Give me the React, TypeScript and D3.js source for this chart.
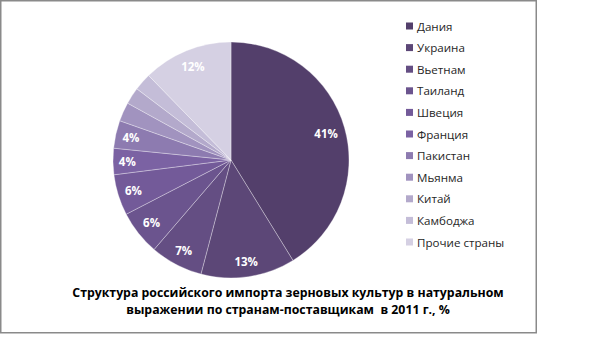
import React from "react";
import * as d3 from "d3";

const countries = ["Дания", "Украина", "Вьетнам", "Таиланд", "Швеция", "Франция", "Пакистан", "Мьянма", "Китай", "Камбоджа", "Прочие страны"];
const shares = [41.2, 12.9, 7.2, 6.1, 5.6, 3.6, 3.8, 2.6, 2.3, 2.4, 12.3];
const colors = ["#533f6b", "#5c4777", "#644e83", "#6b548e", "#735a99", "#7b62a3", "#8d7bb0", "#a193bf", "#b3a9cb", "#c4bdd8", "#d5d0e3"];
const titleLines = ["Структура российского импорта зерновых культур в натуральном", "выражении по странам-поставщикам  в 2011 г., %"];
const minLabelShare = 3.5;

const W = 614, H = 360;
const cx = 231, cy = 160, R = 118;
const FONT = "'Open Sans', 'Noto Sans', sans-serif";

export default function App() {
  const data = countries.map((c, i) => ({ name: c, value: shares[i], color: colors[i] }));
  const pie = d3.pie<any>().value((d) => d.value).sort(null);
  const arcs = pie(data);
  const arc = d3.arc<any>().innerRadius(0).outerRadius(R);
  const total = d3.sum(shares);

  const legendY = d3.scalePoint<string>().domain(countries).range([26, 242]);

  return (
    <svg width={W} height={H} style={{ position: "absolute", left: 0, top: 0, background: "#fff" }} fontFamily={FONT}>
      <rect x={0.75} y={0.75} width={535.5} height={332} fill="#fff" stroke="#8a8a8a" strokeWidth={1.5} />
      <g transform={`translate(${cx},${cy})`}>
        {arcs.map((a, i) => (
          <path key={i} d={arc(a) as string} fill={a.data.color} stroke="#ffffff" strokeOpacity={0.45} strokeWidth={0.7} />
        ))}
        {arcs.map((a, i) => {
          const pct = (a.data.value / total) * 100;
          if (pct < minLabelShare) return null;
          const label = `${Math.round(pct)}%`;
          const mid = (a.startAngle + a.endAngle) / 2;
          const hw = label.length * 3.6, hh = 6.5;
          const s = Math.sin(mid), c = Math.cos(mid);
          const r = R - 7 - (Math.abs(s) * hw + Math.abs(c) * hh);
          return (
            <text key={"l" + i} x={r * s} y={-r * c} textAnchor="middle" dominantBaseline="central" fill="#ffffff" fontWeight="bold" fontSize={11.5}>
              {label}
            </text>
          );
        })}
      </g>
      <g>
        {data.map((d, i) => (
          <g key={i} transform={`translate(406,${legendY(d.name)})`}>
            <rect x={0} y={-3.5} width={7} height={7} fill={d.color} />
            <text x={11} y={0} dominantBaseline="central" fontSize={11.6} fill="#262626">{d.name}</text>
          </g>
        ))}
      </g>
      {titleLines.map((t, i) => (
        <text key={i} x={288} y={292 + i * 17} textAnchor="middle" dominantBaseline="central" fontWeight="bold" fontSize={12.3} fill="#000" style={{ whiteSpace: "pre" }}>{t}</text>
      ))}
    </svg>
  );
}
